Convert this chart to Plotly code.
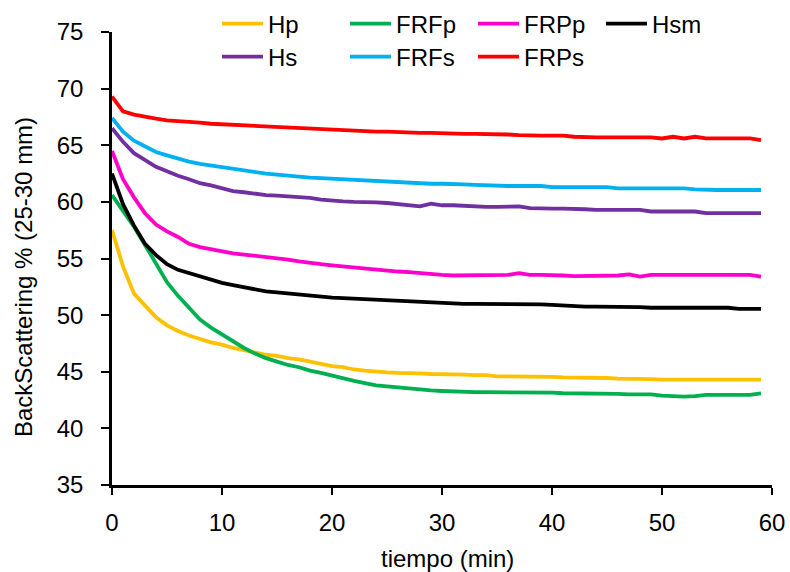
import plotly.graph_objects as go

# Backscattering (25-30 mm) over time, one reading per minute
minutes = list(range(60))

hp = [57.5, 54.3, 51.9, 50.8, 49.8, 49.1, 48.6, 48.2, 47.9, 47.6,
      47.4, 47.1, 46.9, 46.7, 46.5, 46.4, 46.2, 46.1, 45.9, 45.7,
      45.5, 45.4, 45.2, 45.1, 45.0, 44.95, 44.9, 44.9, 44.85, 44.8,
      44.8, 44.75, 44.75, 44.7, 44.7, 44.6, 44.6, 44.6, 44.6, 44.55,
      44.55, 44.5, 44.5, 44.45, 44.45, 44.45, 44.4, 44.4, 44.4, 44.35,
      44.3, 44.3, 44.3, 44.3, 44.3, 44.3, 44.3, 44.3, 44.3, 44.3]

frfp = [60.6, 59.2, 57.8, 56.2, 54.5, 52.9, 51.7, 50.6, 49.6, 48.9,
        48.3, 47.7, 47.1, 46.6, 46.2, 45.9, 45.6, 45.4, 45.1, 44.9,
        44.65, 44.4, 44.2, 44.0, 43.8, 43.7, 43.6, 43.55, 43.45, 43.35,
        43.3, 43.25, 43.2, 43.2, 43.2, 43.2, 43.2, 43.2, 43.2, 43.2,
        43.15, 43.1, 43.1, 43.1, 43.1, 43.1, 43.05, 43.0, 43.0, 43.0,
        42.9, 42.85, 42.8, 42.85, 42.95, 42.95, 42.95, 42.95, 42.95, 43.1]

frpp = [64.5, 62.0, 60.4, 59.0, 58.0, 57.4, 56.9, 56.3, 56.0, 55.8,
        55.6, 55.45, 55.35, 55.25, 55.15, 55.0, 54.9, 54.75, 54.6, 54.5,
        54.4, 54.3, 54.25, 54.1, 54.05, 53.95, 53.85, 53.8, 53.7, 53.65,
        53.55, 53.5, 53.5, 53.5, 53.5, 53.5, 53.55, 53.7, 53.55, 53.55,
        53.55, 53.5, 53.45, 53.45, 53.45, 53.45, 53.5, 53.6, 53.4, 53.55,
        53.55, 53.55, 53.55, 53.55, 53.55, 53.55, 53.55, 53.55, 53.55, 53.4]

hsm = [62.5, 59.8, 57.9, 56.3, 55.3, 54.5, 54.0, 53.7, 53.4, 53.1,
       52.85, 52.65, 52.45, 52.25, 52.1, 52.0, 51.9, 51.85, 51.7, 51.6,
       51.55, 51.5, 51.45, 51.4, 51.35, 51.3, 51.3, 51.25, 51.2, 51.15,
       51.1, 51.05, 51.0, 51.0, 51.0, 51.0, 51.0, 51.0, 51.0, 50.95,
       50.9, 50.85, 50.75, 50.75, 50.75, 50.75, 50.75, 50.75, 50.7, 50.65,
       50.65, 50.65, 50.65, 50.65, 50.65, 50.65, 50.65, 50.55, 50.55, 50.55]

hs = [66.5, 65.3, 64.3, 63.7, 63.1, 62.7, 62.3, 62.0, 61.65, 61.45,
      61.2, 60.95, 60.85, 60.7, 60.6, 60.55, 60.5, 60.45, 60.35, 60.2,
      60.1, 60.05, 60.0, 60.0, 59.95, 59.9, 59.8, 59.75, 59.6, 59.85,
      59.7, 59.7, 59.65, 59.55, 59.55, 59.55, 59.55, 59.6, 59.45, 59.4,
      59.4, 59.4, 59.4, 59.35, 59.3, 59.3, 59.3, 59.3, 59.3, 59.15,
      59.15, 59.15, 59.15, 59.15, 59.0, 59.0, 59.0, 59.0, 59.0, 59.0]

frfs = [67.4, 66.2, 65.4, 64.9, 64.4, 64.1, 63.8, 63.55, 63.35, 63.2,
        63.05, 62.9, 62.75, 62.65, 62.5, 62.4, 62.3, 62.2, 62.15, 62.1,
        62.05, 62.0, 61.9, 61.85, 61.8, 61.75, 61.7, 61.7, 61.65, 61.6,
        61.6, 61.6, 61.55, 61.5, 61.45, 61.4, 61.4, 61.4, 61.4, 61.4,
        61.3, 61.3, 61.3, 61.3, 61.3, 61.3, 61.2, 61.2, 61.2, 61.2,
        61.2, 61.2, 61.2, 61.1, 61.05, 61.05, 61.05, 61.05, 61.05, 61.05]

frps = [69.3, 68.0, 67.7, 67.5, 67.35, 67.2, 67.15, 67.05, 67.0, 66.9,
        66.85, 66.8, 66.75, 66.7, 66.65, 66.6, 66.55, 66.5, 66.45, 66.4,
        66.35, 66.3, 66.25, 66.25, 66.2, 66.2, 66.15, 66.15, 66.1, 66.1,
        66.05, 66.0, 66.0, 66.0, 66.0, 66.0, 65.95, 65.9, 65.85, 65.85,
        65.85, 65.85, 65.75, 65.7, 65.7, 65.7, 65.7, 65.7, 65.7, 65.7,
        65.6, 65.75, 65.6, 65.75, 65.6, 65.6, 65.6, 65.6, 65.6, 65.45]

# (name, values, colour, legend row)
series = [
    ("Hp", hp, "#FFC000", "legend"),
    ("FRFp", frfp, "#00B050", "legend"),
    ("FRPp", frpp, "#FF00CC", "legend"),
    ("Hsm", hsm, "#000000", "legend"),
    ("Hs", hs, "#7030A0", "legend2"),
    ("FRFs", frfs, "#00B0F0", "legend2"),
    ("FRPs", frps, "#FF0000", "legend2"),
]

FONT = "Liberation Sans, Arial, sans-serif"
W, H = 790, 572
ML, MR, MT, MB = 112, 18, 32, 87
PW, PH = W - ML - MR, H - MT - MB


def paper_x(px):
    return (px - ML) / PW


def paper_y(py):
    return 1 - (py - MT) / PH


fig = go.Figure()
for name, vals, color, leg in series:
    fig.add_trace(go.Scatter(
        x=minutes, y=vals, name=name, mode="lines",
        line=dict(color=color, width=3.8),
        legend=leg,
    ))

legend_common = dict(
    orientation="h",
    xanchor="left", yanchor="middle",
    bgcolor="rgba(0,0,0,0)",
    font=dict(family=FONT, size=24, color="#000000"),
    itemwidth=41,
    entrywidth=72, entrywidthmode="pixels",
    tracegroupgap=0,
)

fig.update_layout(
    width=W, height=H,
    margin=dict(l=ML, r=MR, t=MT, b=MB, autoexpand=False),
    paper_bgcolor="white", plot_bgcolor="white",
    font=dict(family=FONT, size=24, color="#000000"),
    showlegend=True,
    legend=dict(x=paper_x(217), y=paper_y(24), **legend_common),
    legend2=dict(x=paper_x(217), y=paper_y(57), **legend_common),
    xaxis=dict(
        range=[0, 60], tickmode="array", tickvals=[0, 10, 20, 30, 40, 50, 60],
        showline=True, linecolor="#000000", linewidth=2.5,
        ticks="outside", ticklen=7, tickwidth=1.5, tickcolor="#000000",
        ticklabelstandoff=7,
        showgrid=False, zeroline=False,
        automargin=False,
    ),
    yaxis=dict(
        range=[35, 75], tickmode="array", tickvals=[35, 40, 45, 50, 55, 60, 65, 70, 75],
        showline=True, linecolor="#000000", linewidth=2.5,
        ticks="outside", ticklen=8, tickwidth=1.5, tickcolor="#000000",
        ticklabelstandoff=13,
        showgrid=False, zeroline=False,
        automargin=False,
    ),
    annotations=[
        dict(text="tiempo (min)", xref="paper", yref="paper",
             x=paper_x(447), y=paper_y(558), xanchor="center", yanchor="middle",
             showarrow=False, font=dict(family=FONT, size=24)),
        dict(text="BackScattering % (25-30 mm)", xref="paper", yref="paper",
             x=paper_x(23), y=paper_y(277), xanchor="center", yanchor="middle",
             textangle=-90, showarrow=False, font=dict(family=FONT, size=24)),
    ],
)

fig.write_html("out.html")
